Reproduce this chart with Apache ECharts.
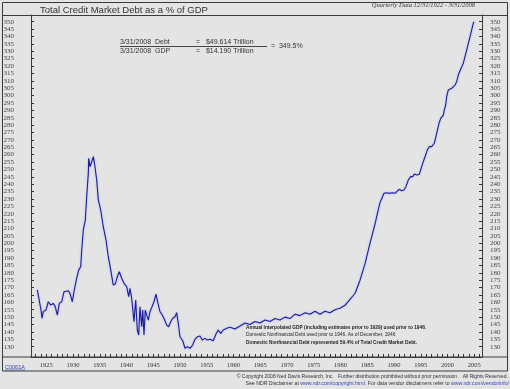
<!DOCTYPE html>
<html><head><meta charset="utf-8">
<script src="https://cdn.jsdelivr.net/npm/echarts@6/dist/echarts.min.js"></script>
<style>html,body{margin:0;padding:0;background:#e4e4e4}#c{width:510px;height:389px}</style>
</head><body><div id="c"></div>
<script>
// ---- data: [year, debt as % of GDP] ----
const debtSeries = [
[1923.32,168.4],[1923.63,167.9],[1924.01,154.8],[1924.20,149.2],[1924.44,153.7],[1924.94,154.8],[1925.37,160.4],[1925.82,158.2],[1926.31,159.3],[1926.68,157.0],
[1927.06,151.4],[1927.43,159.3],[1927.88,160.4],[1928.31,167.2],[1928.68,166.1],[1929.11,167.9],[1929.43,166.1],[1929.86,160.4],[1930.23,168.4],[1930.68,176.3],
[1931.06,182.0],[1931.43,184.1],[1931.62,195.4],[1931.92,209.0],[1932.29,215.7],[1932.55,231.5],[1932.85,247.3],[1932.93,257.5],[1933.17,251.8],[1933.49,255.2],
[1933.79,258.6],[1934.10,251.8],[1934.42,242.8],[1934.72,229.3],[1935.17,222.5],[1935.65,211.2],[1936.16,202.2],[1936.59,190.9],[1937.04,182.0],[1937.52,171.7],
[1937.90,172.4],[1938.27,177.3],[1938.64,180.7],[1939.09,176.3],[1939.52,172.9],[1940.03,170.6],[1940.40,163.8],[1940.64,169.5],[1940.96,162.7],[1941.39,146.9],
[1941.71,161.6],[1942.01,141.3],[1942.27,137.9],[1942.51,157.0],[1942.83,143.5],[1943.02,154.8],[1943.26,137.9],[1943.50,154.8],[1943.77,151.4],[1944.07,148.0],
[1944.38,153.7],[1944.76,157.0],[1945.13,160.4],[1945.50,165.6],[1945.88,159.3],[1946.25,153.7],[1946.68,151.4],[1947.13,148.0],[1947.50,144.6],[1947.88,143.5],
[1948.25,146.9],[1948.63,149.2],[1949.06,150.3],[1949.37,153.0],[1949.67,145.8],[1949.99,136.7],[1950.50,134.0],[1950.93,128.9],[1951.36,130.0],[1951.86,128.9],
[1952.36,131.1],[1952.79,135.0],[1953.22,136.7],[1953.73,137.2],[1954.16,134.5],[1954.66,135.6],[1955.17,134.5],[1955.60,135.0],[1956.21,134.0],[1956.72,138.6],
[1957.15,141.3],[1957.60,139.0],[1958.08,141.3],[1958.72,142.4],[1959.34,143.1],[1960.27,142],[1961.21,144],[1962.14,146],[1963.07,145],[1964.01,147],
[1964.94,146],[1965.88,148],[1966.81,147],[1967.75,149],[1968.68,148],[1969.62,150],[1970.55,149],[1971.49,152],[1972.42,151],[1973.36,153],
[1974.29,152],[1975.22,154],[1976.16,152],[1977.09,154],[1978.03,153],[1978.96,155],[1979.90,156],[1980.83,158],[1981.77,162],[1982.70,166],
[1983.64,175],[1984.57,186],[1985.50,200],[1986.44,213],[1987.00,222],[1987.37,227.5],[1987.69,228.1],[1988.12,233.8],[1988.50,234.2],[1988.93,233.8],
[1989.24,234.9],[1989.75,234.2],[1990.18,233.8],[1990.50,233.3],[1990.93,236.5],[1991.43,235.6],[1991.86,236.0],[1992.23,238.3],[1992.66,242.8],[1993.11,245.1],
[1993.49,245.1],[1993.79,246.9],[1994.23,246.2],[1994.72,246.7],[1994.98,247.4],[1995.36,254.1],[1995.79,258.6],[1996.21,263.1],[1996.59,265.4],[1997.04,265.4],
[1997.34,266.5],[1997.52,267.7],[1997.97,274.4],[1998.40,281.2],[1998.72,284.6],[1999.21,286.8],[1999.39,290.2],[1999.65,293.6],[1999.84,299.2],[2000.14,303.8],
[2000.46,304.2],[2000.78,304.9],[2001.07,306.0],[2001.39,307.1],[2001.71,309.4],[2002.01,313.9],[2002.33,316.8],[2002.64,317.3],[2002.94,321.8],[2003.26,326.3],
[2003.58,330.8],[2003.88,335.4],[2004.20,339.8],[2004.51,344.4],[2004.81,348.9],[2004.94,350.0]
];
const yTickValues = [130,135,140,145,150,155,160,165,170,175,180,185,190,195,200,205,210,215,220,225,230,235,240,245,250,255,260,265,270,275,280,285,290,295,300,305,310,315,320,325,330,335,340,345,350];
const xLabelYears = [1925,1930,1935,1940,1945,1950,1955,1960,1965,1970,1975,1980,1985,1990,1995,2000,2005];
const xTickYears = [1923,1924,1925,1926,1927,1928,1929,1930,1931,1932,1933,1934,1935,1936,1937,1938,1939,1940,1941,1942,1943,1944,1945,1946,1947,1948,1949,1950,1951,1952,1953,1954,1955,1956,1957,1958,1959,1960,1961,1962,1963,1964,1965,1966,1967,1968,1969,1970,1971,1972,1973,1974,1975,1976,1977,1978,1979,1980,1981,1982,1983,1984,1985,1986,1987,1988,1989,1990,1991,1992,1993,1994,1995,1996,1997,1998,1999,2000,2001,2002,2003,2004,2005,2006];

const titleText = 'Total Credit Market Debt as a % of GDP';
const subText = 'Quarterly Data 12/31/1922 - 3/31/2008';
const eqDebt = '3/31/2008  Debt';
const eqGdp = '3/31/2008  GDP';
const eqDebtVal = '=   $49.614 Trillion';
const eqGdpVal = '=   $14.190 Trillion';
const eqResult = '=  349.5%';
const noteLines = [
 'Annual Interpolated GDP (including estimates prior to 1929) used prior to 1946.',
 'Domestic Nonfinancial Debt used prior to 1946. As of December, 1946',
 'Domestic Nonfinancial Debt represented 59.4% of Total Credit Market Debt.'
];
const footer1 = '\u00A9 Copyright 2008 Ned Davis Research, Inc.   Further distribution prohibited without prior permission.   All Rights Reserved.';
const footer2a = 'See NDR Disclaimer at ';
const footer2b = 'www.ndr.com/copyright.html';
const footer2c = '. For data vendor disclaimers refer to ';
const footer2d = 'www.ndr.com/vendorinfo/';
const chartCode = 'C0061A';

const chart = echarts.init(document.getElementById('c'), null, {renderer:'canvas'});
const frame = '#3a3a3a';
const axisCommon = {
  type:'value', min:123.0, max:354.54,
  axisLine:{show:true, lineStyle:{color:frame, width:1}},
  axisTick:{show:true, inside:true, length:3, customValues:yTickValues, lineStyle:{color:'#333'}},
  splitLine:{show:false},
};
chart.setOption({
  backgroundColor:'#e4e4e4',
  animation:false,
  grid:{left:31, right:28, top:15, bottom:32, containLabel:false},
  xAxis:{
    type:'value', min:1922.14, max:2006.44,
    axisLine:{show:true, lineStyle:{color:frame, width:1}},
    axisTick:{show:true, inside:true, length:3, customValues:xTickYears, lineStyle:{color:'#333'}},
    axisLabel:{customValues:xLabelYears, fontSize:6.5, fontFamily:'Liberation Serif', color:'#333', margin:5,
      formatter:function(v){return String(Math.round(v));}},
    splitLine:{show:false}
  },
  yAxis:[
    Object.assign({}, axisCommon, {position:'left',
      axisLabel:{customValues:yTickValues, fontSize:7, fontFamily:'Liberation Sans Narrow', color:'#444', margin:17}}),
    Object.assign({}, axisCommon, {position:'right',
      axisLabel:{customValues:yTickValues, fontSize:7, fontFamily:'Liberation Sans Narrow', color:'#444', margin:8}})
  ],
  series:[{
    type:'line', data:debtSeries, showSymbol:false, symbol:'none',
    lineStyle:{color:'#1d1d98', width:1.1, shadowColor:'rgba(110,130,255,0.55)', shadowBlur:2},
    silent:true
  }],
  graphic:[
    {type:'rect', shape:{x:2.5, y:2.5, width:505, height:368.5}, style:{fill:null, stroke:frame, lineWidth:1}, silent:true},
    {type:'line', shape:{x1:2.5, y1:15.5, x2:507.5, y2:15.5}, style:{stroke:frame, lineWidth:1}},
    {type:'line', shape:{x1:2.5, y1:357, x2:507.5, y2:357}, style:{stroke:frame, lineWidth:1}},
    {type:'text', x:40, y:10.5, style:{text:titleText, font:'9.5px "Liberation Sans"', fill:'#333', verticalAlign:'middle'}},
    {type:'text', x:475, y:5.5, style:{text:subText, font:'italic 6.5px "Liberation Serif"', fill:'#333', align:'right', verticalAlign:'middle'}},
    {type:'text', x:120, y:42, style:{text:eqDebt, font:'7px "Liberation Sans"', fill:'#333', verticalAlign:'middle'}},
    {type:'text', x:120, y:51, style:{text:eqGdp, font:'7px "Liberation Sans"', fill:'#333', verticalAlign:'middle'}},
    {type:'text', x:196, y:42, style:{text:eqDebtVal, font:'7px "Liberation Sans"', fill:'#333', verticalAlign:'middle'}},
    {type:'text', x:196, y:51, style:{text:eqGdpVal, font:'7px "Liberation Sans"', fill:'#333', verticalAlign:'middle'}},
    {type:'line', shape:{x1:120, y1:46.5, x2:267, y2:46.5}, style:{stroke:'#444', lineWidth:1}},
    {type:'text', x:271, y:46, style:{text:eqResult, font:'7px "Liberation Sans"', fill:'#333', verticalAlign:'middle'}},
    {type:'text', x:246, y:328, style:{text:noteLines[0], font:'bold 4.8px "Liberation Sans"', fill:'#222', verticalAlign:'middle'}},
    {type:'text', x:246, y:335, style:{text:noteLines[1], font:'4.8px "Liberation Sans"', fill:'#222', verticalAlign:'middle'}},
    {type:'text', x:246, y:342.5, style:{text:noteLines[2], font:'bold 4.8px "Liberation Sans"', fill:'#222', verticalAlign:'middle'}},
    {type:'text', x:5, y:367, style:{text:chartCode, font:'5.5px "Liberation Sans"', fill:'#3344aa', verticalAlign:'middle'}},
    {type:'line', shape:{x1:5, y1:370, x2:25, y2:370}, style:{stroke:'#3344aa', lineWidth:0.6}},
    {type:'text', x:508, y:377, style:{text:footer1, font:'5px "Liberation Sans"', fill:'#333', align:'right', verticalAlign:'middle'}},
    {type:'text', x:509, y:384, style:{
      rich:{a:{font:'5.2px "Liberation Sans"', fill:'#333'}, u:{font:'5.2px "Liberation Sans"', fill:'#3344bb'}},
      text:'{a|'+footer2a+'}{u|'+footer2b+'}{a|'+footer2c+'}{u|'+footer2d+'}', align:'right', verticalAlign:'middle'}}
  ]
});
</script></body></html>
